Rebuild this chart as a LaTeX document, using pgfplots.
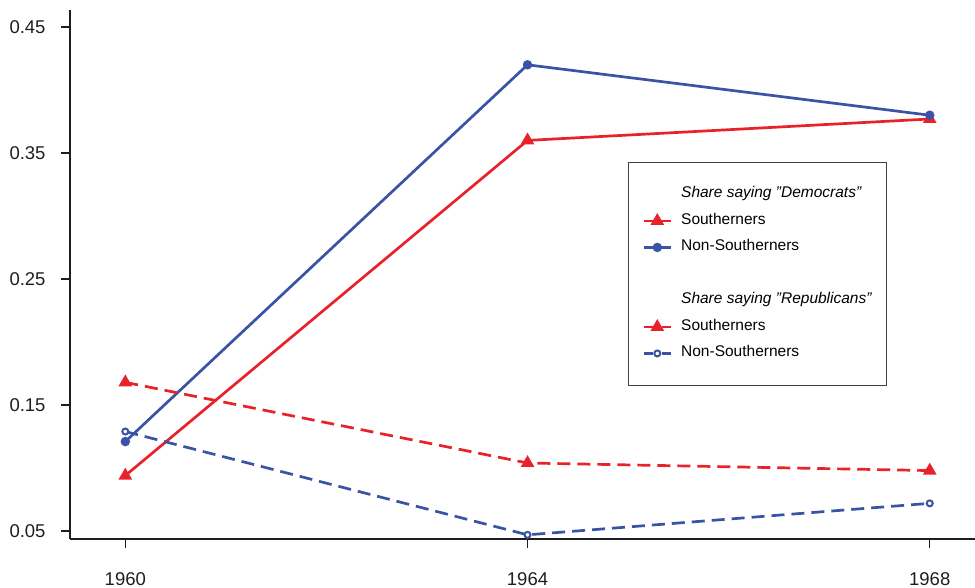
\documentclass[border=0pt]{standalone}
\usepackage{pgfplots}
\pgfplotsset{compat=1.18}
\usepackage{fontspec}
\setmainfont{Liberation Sans}
\definecolor{southred}{RGB}{232,34,40}
\definecolor{nonsouthblue}{RGB}{58,84,165}
\definecolor{axisgray}{RGB}{30,30,30}

\begin{document}
\begin{tikzpicture}[x=1pt,y=1pt]
\useasboundingbox (-70,-49) rectangle (905,539);
\begin{axis}[
  at={(0,0)}, anchor=south west,
  scale only axis, width=905pt, height=529pt,
  xmin=1959.45, xmax=1968.45, ymin=0.0437, ymax=0.4635,
  axis lines=left,
  axis line style={-, line width=1.6pt, axisgray},
  xtick={1960,1964,1968}, xticklabels={1960,1964,1968},
  ytick={0.05,0.15,0.25,0.35,0.45},
  yticklabels={0.05,0.15,0.25,0.35,0.45},
  tick align=outside, major tick length=9pt,
  tick style={line width=1.3pt, axisgray},
  ticklabel style={font=\fontsize{18.5}{21}\selectfont, text=axisgray},
  yticklabel style={xshift=-12pt},
  xticklabel style={yshift=-21pt},
  clip=false,
  legend cell align=left,
  legend style={
    at={(0.6166,0.7127)}, anchor=north west,
    draw=black!75, line width=0.9pt,
    font=\fontsize{15.5}{18}\selectfont,
    inner xsep=14pt, inner ysep=24.5pt,
    row sep=11.5pt, column sep=9pt,
    nodes={inner sep=0pt, text height=11pt, text depth=4pt},
  },
  legend image code/.code={
    \draw[mark repeat=2,mark phase=2,#1]
      plot coordinates {(0pt,0pt) (13.5pt,0pt) (27pt,0pt)};
  },
  every axis plot/.append style={line width=2.7pt},
]
% Democrats
\addlegendimage{empty legend}
\addlegendentry{\textit{Share saying \char34 Democrats\char34}}
\addplot[southred, mark=triangle*, mark size=5.2pt, mark options={solid}]
  coordinates {(1960,0.094) (1964,0.360) (1968,0.377)};
\addlegendentry{Southerners}
\addplot[nonsouthblue, mark=*, mark size=3.3pt, mark options={solid}]
  coordinates {(1960,0.121) (1964,0.420) (1968,0.380)};
\addlegendentry{Non-Southerners}
\addlegendimage{empty legend}
\addlegendentry{\mbox{}}
% Republicans
\addlegendimage{empty legend}
\addlegendentry{\textit{Share saying \char34 Republicans\char34}}
\addplot[southred, dash pattern=on 13pt off 7pt, mark=triangle*, mark size=5.2pt,
  mark options={solid}, legend image post style={dash pattern=on 9pt off 9pt}]
  coordinates {(1960,0.168) (1964,0.104) (1968,0.098)};
\addlegendentry{Southerners}
\addplot[nonsouthblue, dash pattern=on 13pt off 7pt, mark=*, mark size=3.0pt,
  mark options={solid, fill=white, line width=2pt},
  legend image post style={dash pattern=on 9pt off 9pt}]
  coordinates {(1960,0.129) (1964,0.047) (1968,0.072)};
\addlegendentry{Non-Southerners}
\end{axis}
\end{tikzpicture}
\end{document}
